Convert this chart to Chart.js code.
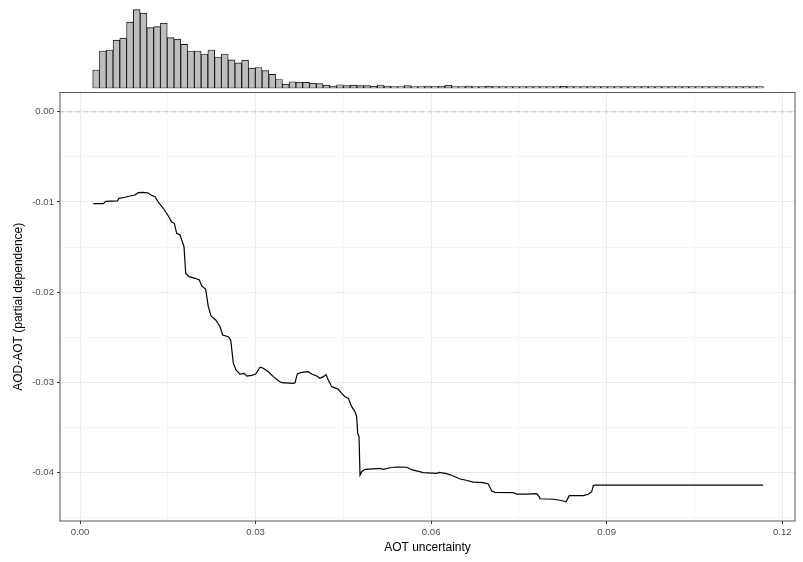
<!DOCTYPE html>
<html>
<head>
<meta charset="utf-8">
<title>AOT uncertainty - partial dependence</title>
<script src="https://cdn.jsdelivr.net/npm/chart.js@4.4.1/dist/chart.umd.min.js"></script>
<style>
  body { margin: 0; background: #fff; }
  #wrap { position: relative; width: 803px; height: 562px; }
  canvas { position: absolute; left: 0; top: 0; }
</style>
</head>
<body>
<div id="wrap">
  <canvas id="main" width="803" height="562"></canvas>
  <canvas id="hist" width="803" height="92"></canvas>
</div>
<script>
// partial dependence curve
const pdX = [0.00227,0.00398,0.00439,0.00637,0.00666,0.00769,0.00854,0.00928,0.00996,0.01082,
  0.01167,0.01213,0.01282,0.01338,0.01423,0.01509,0.01567,0.01611,0.01652,0.01709,
  0.01777,0.01806,0.01863,0.01965,0.02039,0.02080,0.02148,0.02192,0.02239,0.02319,
  0.02392,0.02438,0.02534,0.02575,0.02620,0.02666,0.02734,0.02808,0.02849,0.02934,
  0.03002,0.03076,0.03132,0.03218,0.03303,0.03389,0.03447,0.03645,0.03674,0.03713,
  0.03788,0.03901,0.03959,0.04045,0.04101,0.04158,0.04204,0.04243,0.04301,0.04414,
  0.04472,0.04528,0.04585,0.04643,0.04699,0.04728,0.04745,0.04768,0.04785,0.04814,
  0.04870,0.05126,0.05183,0.05297,0.05412,0.05583,0.05668,0.05866,0.06095,0.06140,
  0.06266,0.06379,0.06494,0.06579,0.06721,0.06892,0.06977,0.07035,0.07092,0.07404,
  0.07462,0.07633,0.07804,0.07849,0.07861,0.08088,0.08173,0.08259,0.08305,0.08361,
  0.08600,0.08686,0.08744,0.08771,0.08800,0.11671];
const pdY = [-0.01019,-0.01019,-0.00993,-0.00989,-0.00960,-0.00948,-0.00934,-0.00926,-0.00897,-0.00893,
  -0.00901,-0.00923,-0.00942,-0.01001,-0.01070,-0.01156,-0.01222,-0.01237,-0.01348,-0.01367,
  -0.01496,-0.01791,-0.01829,-0.01847,-0.01866,-0.01932,-0.01969,-0.02162,-0.02265,-0.02309,
  -0.02384,-0.02476,-0.02495,-0.02531,-0.02790,-0.02864,-0.02909,-0.02901,-0.02931,-0.02923,
  -0.02909,-0.02834,-0.02845,-0.02883,-0.02938,-0.02983,-0.03005,-0.03012,-0.03005,-0.02909,
  -0.02890,-0.02883,-0.02909,-0.02931,-0.02956,-0.02938,-0.02916,-0.02975,-0.03049,-0.03078,
  -0.03123,-0.03160,-0.03178,-0.03271,-0.03327,-0.03382,-0.03566,-0.03604,-0.04029,-0.03992,
  -0.03966,-0.03955,-0.03966,-0.03948,-0.03940,-0.03943,-0.03970,-0.04003,-0.04010,-0.03999,
  -0.04014,-0.04040,-0.04073,-0.04084,-0.04107,-0.04114,-0.04129,-0.04206,-0.04221,-0.04225,
  -0.04240,-0.04240,-0.04236,-0.04270,-0.04292,-0.04298,-0.04306,-0.04317,-0.04325,-0.04258,
  -0.04258,-0.04243,-0.04214,-0.04148,-0.04140,-0.04140];

// marginal histogram of AOT uncertainty (99 bins)
const binStart = 0.00217;
const binWidth = 0.0011576;
const histCounts = [183,373,383,483,503,663,787,753,607,617,
  653,507,493,440,373,373,343,383,313,343,
  285,255,282,202,208,177,139,88,41,66,
  62,60,51,47,32,23,35,27,31,27,
  27,20,33,23,13,13,27,13,13,23,
  13,23,30,13,13,23,13,10,20,10,
  7,7,7,10,7,17,17,13,13,20,
  13,10,10,8,8,13,7,13,3,2,
  3,2,1,2,3,1,2,1,2,1,
  1,2,1,1,2,1,1,2,3];

const xMajorTicks = [0, 0.03, 0.06, 0.09, 0.12];
const xMinorTicks = [0.015, 0.045, 0.075, 0.105];
const xTickLabels = ['0.00', '0.03', '0.06', '0.09', '0.12'];
const yMajorTicks = [-0.04, -0.03, -0.02, -0.01, 0];
const yMinorTicks = [-0.045, -0.035, -0.025, -0.015, -0.005];
const yTickLabels = ['-0.04', '-0.03', '-0.02', '-0.01', '0.00'];

const xMin = -0.00342, xMax = 0.12218;
const yMin = -0.04539, yMax = 0.00214;

Chart.defaults.font.family = "'Liberation Sans', Arial, sans-serif";

function majorIndex(v, list) {
  return list.findIndex(m => Math.abs(m - v) < 1e-9);
}

function gridFor(major, minor, labels) {
  return {
    afterBuildTicks: axis => {
      axis.ticks = major.concat(minor).sort((a, b) => a - b).map(v => ({ value: v }));
    },
    ticks: {
      autoSkip: false,
      maxRotation: 0,
      color: '#4d4d4d',
      font: { size: 9.6 },
      padding: 3,
      callback: v => {
        const i = majorIndex(v, major);
        return i >= 0 ? labels[i] : '';
      }
    },
    grid: {
      color: c => majorIndex(c.tick.value, major) >= 0 ? '#ebebeb' : '#f3f3f3',
      lineWidth: c => majorIndex(c.tick.value, major) >= 0 ? 1 : 0.8,
      tickColor: c => majorIndex(c.tick.value, major) >= 0 ? '#333333' : 'rgba(0,0,0,0)',
      tickLength: 3,
      tickWidth: 1
    },
    border: { display: false }
  };
}

const panelPlugin = {
  id: 'panel',
  beforeDatasetsDraw(chart) {
    const { ctx, chartArea: a, scales: { y } } = chart;
    const y0 = y.getPixelForValue(0);
    ctx.save();
    ctx.strokeStyle = '#c4c4c4';
    ctx.lineWidth = 1;
    ctx.setLineDash([4.5, 3.5]);
    ctx.beginPath();
    ctx.moveTo(a.left, y0);
    ctx.lineTo(a.right, y0);
    ctx.stroke();
    ctx.restore();
  },
  afterDatasetsDraw(chart) {
    const { ctx, chartArea: a } = chart;
    ctx.save();
    ctx.strokeStyle = '#555555';
    ctx.lineWidth = 1;
    ctx.strokeRect(a.left, a.top, a.right - a.left, a.bottom - a.top);
    ctx.restore();
  }
};

const xGrid = gridFor(xMajorTicks, xMinorTicks, xTickLabels);
const yGrid = gridFor(yMajorTicks, yMinorTicks, yTickLabels);

new Chart(document.getElementById('main'), {
  type: 'scatter',
  data: {
    datasets: [{
      data: pdX.map((x, i) => ({ x: x, y: pdY[i] })),
      showLine: true,
      borderColor: '#000000',
      borderWidth: 1.2,
      pointRadius: 0,
      tension: 0
    }]
  },
  options: {
    responsive: false,
    animation: false,
    layout: { padding: { top: 92.5, right: 8, left: 0, bottom: 0 } },
    plugins: { legend: { display: false }, tooltip: { enabled: false } },
    scales: {
      x: Object.assign({
        type: 'linear', min: xMin, max: xMax,
        afterFit: a => { a.height = 41; },
        title: { display: true, text: 'AOT uncertainty', color: '#000', font: { size: 12 }, padding: { top: 0, bottom: 7.5 } }
      }, xGrid),
      y: Object.assign({
        type: 'linear', min: yMin, max: yMax,
        afterFit: a => { a.width = 60; },
        title: { display: true, text: 'AOD-AOT (partial dependence)', color: '#000', font: { size: 12 }, padding: { top: 11, bottom: 0 } }
      }, yGrid)
    }
  },
  plugins: [panelPlugin]
});

const binCenters = histCounts.map((_, i) => binStart + (i + 0.5) * binWidth);

new Chart(document.getElementById('hist'), {
  type: 'bar',
  data: {
    datasets: [{
      data: binCenters.map((x, i) => ({ x: x, y: histCounts[i] })),
      backgroundColor: '#bebebe',
      borderColor: '#111111',
      borderWidth: 0.9,
      borderSkipped: false,
      barPercentage: 1,
      categoryPercentage: 1,
      minBarLength: 1.8
    }]
  },
  options: {
    responsive: false,
    animation: false,
    layout: { padding: { top: 5, right: 8, left: 60, bottom: 3.7 } },
    plugins: { legend: { display: false }, tooltip: { enabled: false } },
    scales: {
      x: { type: 'linear', min: xMin, max: xMax, offset: false, display: false },
      y: { min: 0, max: 834, display: false }
    }
  }
});
</script>
</body>
</html>
